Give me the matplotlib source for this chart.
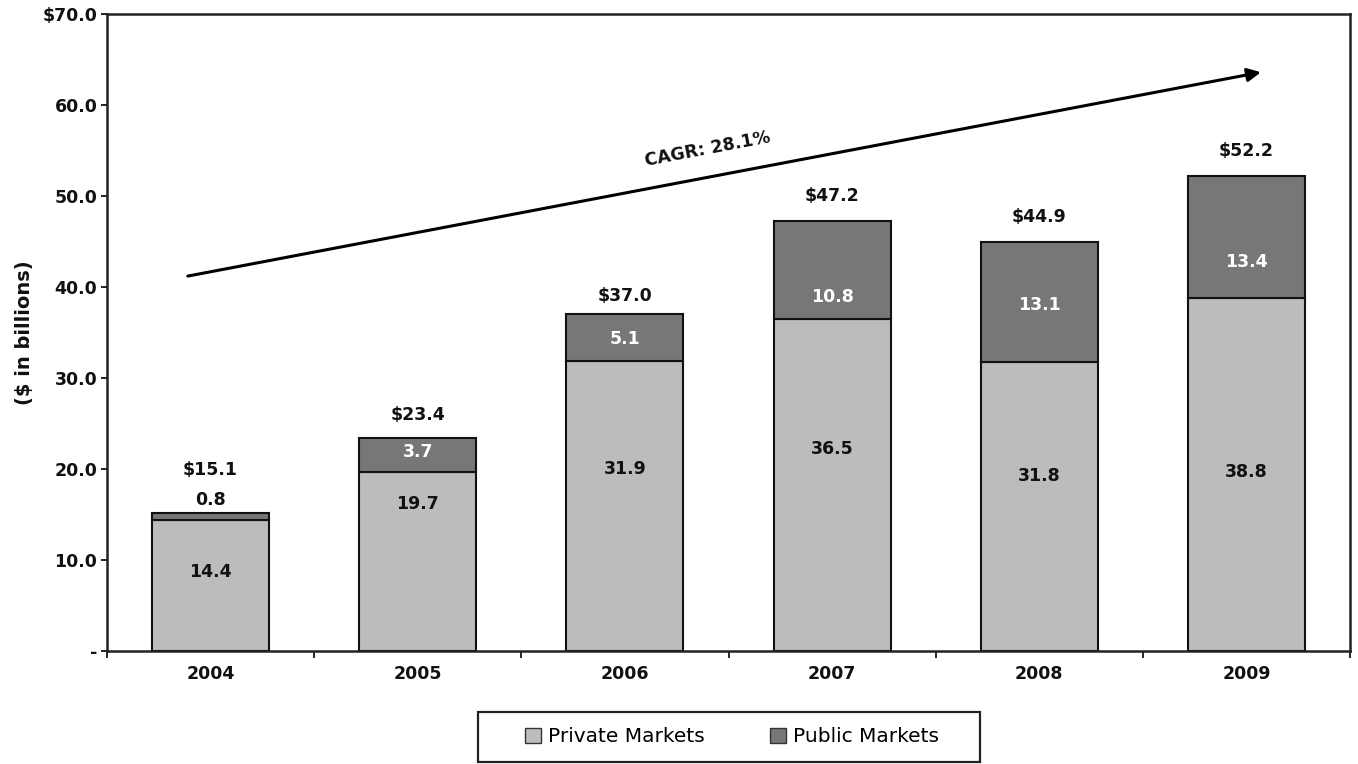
import matplotlib
matplotlib.use("Agg")
import matplotlib.pyplot as plt
from matplotlib.patches import Patch, Rectangle

years = ["2004", "2005", "2006", "2007", "2008", "2009"]
private = [14.4, 19.7, 31.9, 36.5, 31.8, 38.8]
public = [0.8, 3.7, 5.1, 10.8, 13.1, 13.4]
totals = [15.1, 23.4, 37.0, 47.2, 44.9, 52.2]
# label placement (data y)
private_label_y = [8.7, 16.2, 20.0, 22.2, 19.2, 19.7]
public_label_y = [16.6, 21.9, 34.3, 38.9, 38.0, 42.7]
total_label_y = [19.9, 25.9, 39.0, 50.0, 47.7, 54.9]
yticks = [0, 10, 20, 30, 40, 50, 60, 70]
ytick_labels = ["-", "10.0", "20.0", "30.0", "40.0", "50.0", "60.0", "$70.0"]
cagr_text = "CAGR: 28.1%"

c_priv = "#bcbcbc"
c_pub = "#777777"

plt.rcParams['font.family'] = ['DejaVu Sans']
fig = plt.figure(figsize=(13.58, 7.64), dpi=100)
ax = fig.add_axes([107/1358, 1-651/764, (1350-107)/1358, (651-14)/764])

x = list(range(len(years)))
w = 0.565
ax.bar(x, private, width=w, color=c_priv, edgecolor="#111111", linewidth=1.5, zorder=2)
ax.bar(x, public, width=w, bottom=private, color=c_pub, edgecolor="#111111", linewidth=1.5, zorder=2)

fs = 12.5
for i in x:
    ax.text(i, private_label_y[i], f"{private[i]:.1f}", ha="center", va="center",
            fontsize=fs, fontweight="bold", color="#111111", zorder=3)
    pub_color = "#111111" if i == 0 else "white"
    ax.text(i, public_label_y[i], f"{public[i]:.1f}", ha="center", va="center",
            fontsize=fs, fontweight="bold", color=pub_color, zorder=3)
    ax.text(i, total_label_y[i], f"${totals[i]:.1f}", ha="center", va="center",
            fontsize=fs, fontweight="bold", color="#111111", zorder=3)

ax.set_xlim(-0.5, len(years) - 0.5)
ax.set_ylim(0, 70)
ax.set_yticks(yticks)
ax.set_yticklabels(ytick_labels)
ax.set_xticks(x)
ax.set_xticklabels(years)
ax.set_xticks([i + 0.5 for i in range(-1, len(years))], minor=True)
ax.tick_params(axis="x", which="major", length=0, pad=10, labelsize=fs)
ax.tick_params(axis="x", which="minor", length=5, width=1.2, direction="out")
ax.tick_params(axis="y", length=4, width=1.2, labelsize=fs, pad=3)
for lab in ax.get_xticklabels() + ax.get_yticklabels():
    lab.set_fontweight("bold")
    lab.set_color("#111111")
for s in ax.spines.values():
    s.set_linewidth(1.8)
    s.set_color("#222222")

ax.set_ylabel("($ in billions)", fontsize=14, fontweight="bold", color="#111111", labelpad=6)

# CAGR arrow
ax.annotate("", xy=(5.07, 63.6), xytext=(-0.11, 41.2),
            arrowprops=dict(arrowstyle="-|>", color="black", lw=2.2, mutation_scale=20,
                            shrinkA=0, shrinkB=0), zorder=4)
ax.text(2.40, 55.1, cagr_text, rotation=10.8, ha="center", va="center",
        fontsize=fs, fontweight="bold", color="#111111", rotation_mode="anchor")

handles = [Patch(facecolor=c_priv, edgecolor="#333333", label="Private Markets"),
           Patch(facecolor=c_pub, edgecolor="#333333", label="Public Markets")]
leg = fig.legend(handles=handles, loc="center", bbox_to_anchor=(732/1358, 1-737/764),
                 ncol=2, frameon=False, fontsize=14.5,
                 handlelength=0.8, handleheight=0.8, handletextpad=0.35,
                 columnspacing=3.2, borderpad=0.5)
fig.patches.append(Rectangle((478/1358, 1-762/764), (980-478)/1358, 50/764,
                             transform=fig.transFigure, fill=False,
                             edgecolor="#222222", linewidth=1.6))

fig.savefig("out.png", dpi=100)
